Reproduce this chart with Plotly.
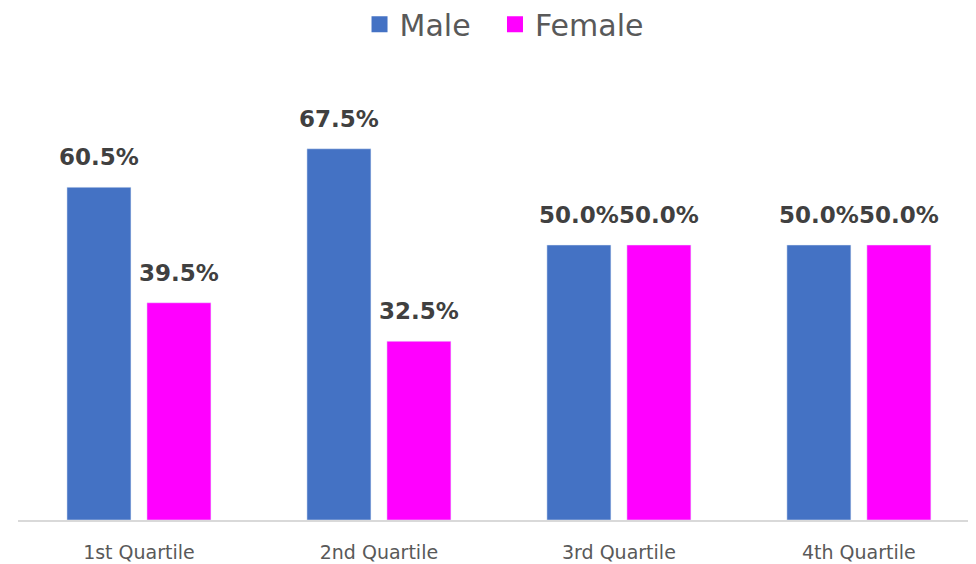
import plotly.graph_objects as go

categories = ["1st Quartile", "2nd Quartile", "3rd Quartile", "4th Quartile"]
male = [60.5, 67.5, 50.0, 50.0]
female = [39.5, 32.5, 50.0, 50.0]
series_names = ["Male", "Female"]
colors = ["#4472C4", "#FF00FF"]

FONT = "DejaVu Sans, sans-serif"

fig = go.Figure()
legend_ids = ["legend", "legend2"]
for name, vals, col, lg in zip(series_names, [male, female], colors, legend_ids):
    fig.add_trace(go.Bar(x=categories, y=vals, name=name, marker_color=col,
                         showlegend=False, hoverinfo="skip"))
    fig.add_trace(go.Scatter(x=[None], y=[None], mode="markers", name=name, legend=lg,
                             marker=dict(symbol="square", size=21, color=col)))

annotations = []
for i, (name, vals) in enumerate(zip(series_names, [male, female])):
    shift = -40 if i == 0 else 40
    for c, v in zip(categories, vals):
        annotations.append(dict(x=c, y=v, text=f"{v:.1f}%", showarrow=False,
                                xshift=shift, yshift=30, yanchor="middle",
                                font=dict(family=FONT, size=23, color="#404040", weight="bold")))

legend_style = dict(orientation="h", xanchor="left", y=1.186, yref="paper",
                    yanchor="top", font=dict(size=30, color="#595959"),
                    itemwidth=30, tracegroupgap=0, bgcolor="rgba(0,0,0,0)")

fig.update_layout(
    width=976, height=564,
    margin=dict(l=10, r=8, t=72, b=52, autoexpand=False),
    paper_bgcolor="white", plot_bgcolor="white",
    barmode="group", bargap=1/3, bargroupgap=0.2,
    font=dict(family=FONT, color="#595959"),
    legend=dict(x=0.3565, **legend_style),
    legend2=dict(x=0.4979, **legend_style),
    annotations=annotations,
    xaxis=dict(range=[-0.504, 3.488], showline=True, linecolor="#D9D9D9", linewidth=2,
               ticks="", ticklabelstandoff=14,
               tickfont=dict(size=19, color="#595959"), fixedrange=True),
    yaxis=dict(range=[0, 80], visible=False, showgrid=False, zeroline=False),
)

fig.write_html("out.html")
